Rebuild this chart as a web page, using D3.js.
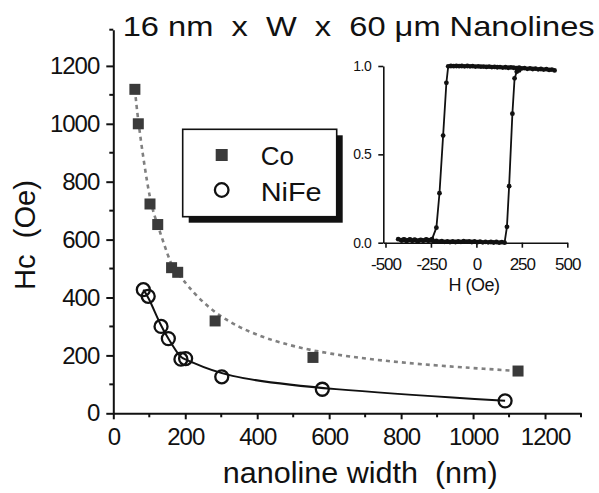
<!DOCTYPE html>
<html>
<head>
<meta charset="utf-8">
<script src="https://cdn.jsdelivr.net/npm/d3@7"></script>
<style>
  body { margin: 0; background: #fff; }
  svg { display: block; }
  text { font-family: "Liberation Sans", Arial, sans-serif; fill: #111; white-space: pre; }
</style>
</head>
<body>
<svg id="chart" width="599" height="493"></svg>
<script>
// main plot: coercivity vs nanoline width
var coWidth = [60, 69.5, 102, 123.5, 162, 179, 283, 555, 1125];
var coHc = [1119, 1000, 723, 652, 503, 487, 319, 193, 146];
var nifeWidth = [83.5, 97, 132.7, 153, 188, 201, 301.5, 581, 1089];
var nifeHc = [427, 404, 300, 258, 187, 189, 126, 83, 43];
var xTicks = [0, 200, 400, 600, 800, 1000, 1200];
var yTicks = [0, 200, 400, 600, 800, 1000, 1200];

// inset: hysteresis loop, field sweep down then back up
var loopField = [430, 415, 400, 385, 370, 355, 340, 325, 310, 295, 280, 265, 250, 235, 220, 205, 190, 175, 160, 145, 130, 115, 100, 85, 70, 55, 40, 25, 10, -5, -20, -35, -50, -65, -80, -95, -110, -125, -140, -155,
  -165, -183, -203, -220, -244,
  -260, -275, -290, -305, -320, -335, -350, -365, -380, -395, -410, -430,
  -415, -400, -385, -370, -355, -340, -325, -310, -295, -280, -265, -250, -235, -220, -205, -190, -175, -160, -145, -130, -115, -100, -85, -70, -55, -40, -25, -10, 5, 20, 35, 50, 65, 80, 95, 110, 125, 140, 155,
  168, 180, 198, 210, 222, 235];
var loopMoment = [0.975, 0.98, 0.978, 0.982, 0.98, 0.983, 0.981, 0.985, 0.983, 0.986, 0.984, 0.988, 0.986, 0.99, 0.988, 0.99, 0.992, 0.99, 0.993, 0.991, 0.994, 0.993, 0.995, 0.994, 0.996, 0.995, 0.997, 0.996, 0.998, 0.997, 0.999, 0.998, 1.0, 0.998, 1.0, 0.999, 1.0, 0.999, 1.0, 0.998,
  0.905, 0.606, 0.28, 0.085, 0.02,
  0.015, 0.018, 0.012, 0.016, 0.01, 0.015, 0.012, 0.018, 0.013, 0.017, 0.012, 0.02,
  0.015, 0.018, 0.01, 0.016, 0.012, 0.017, 0.01, 0.015, 0.012, 0.016, 0.011, 0.014, 0.008, 0.01, 0.006, 0.009, 0.005, 0.008, 0.004, 0.007, 0.004, 0.008, 0.005, 0.009, 0.006, 0.008, 0.004, 0.007, 0.003, 0.006, 0.002, 0.005, 0.002, 0.004, 0.001, 0.004, 0.0, 0.003, 0.0,
  0.09, 0.32, 0.73, 0.93, 0.968, 0.975];
var insetXTicks = [-500, -250, 0, 250, 500];
var insetYTicks = [0, 0.5, 1.0];

var svg = d3.select('#chart');

var x = d3.scaleLinear().domain([0, 1300]).range([113.3, 581]);
var y = d3.scaleLinear().domain([0, 1325]).range([413.3, 29.7]);
var plain = function (d) { return String(d); };

// axes
var gx = svg.append('g')
  .attr('class', 'axis')
  .attr('transform', 'translate(0,' + y(0) + ')')
  .call(d3.axisBottom(x).tickValues(xTicks).tickFormat(plain).tickSize(6).tickPadding(9).tickSizeOuter(0));
gx.selectAll('.minor')
  .data(d3.range(100, 1301, 200))
  .enter().append('line')
  .attr('class', 'minor')
  .attr('x1', x).attr('x2', x)
  .attr('y1', 0).attr('y2', 4);

var gy = svg.append('g')
  .attr('class', 'axis')
  .attr('transform', 'translate(' + x(0) + ',0)')
  .call(d3.axisLeft(y).tickValues(yTicks).tickFormat(plain).tickSize(7).tickPadding(7).tickSizeOuter(0));
gy.selectAll('.minor')
  .data(d3.range(100, 1200, 200).concat([1325]))
  .enter().append('line')
  .attr('class', 'minor')
  .attr('y1', y).attr('y2', y)
  .attr('x1', 0).attr('x2', -4);

svg.selectAll('.axis path, .axis line')
  .attr('stroke', '#111').attr('stroke-width', 2);
svg.selectAll('.axis text')
  .attr('font-size', 24)
  .attr('letter-spacing', -1)
  .attr('fill', '#111');

// titles
svg.append('text')
  .attr('x', 122.7).attr('y', 36)
  .attr('font-size', 28)
  .attr('textLength', 472).attr('lengthAdjust', 'spacingAndGlyphs')
  .text('16 nm  x  W  x  60 \u03bcm Nanolines');

svg.append('text')
  .attr('x', 222.7).attr('y', 483)
  .attr('font-size', 30)
  .attr('textLength', 275).attr('lengthAdjust', 'spacingAndGlyphs')
  .text('nanoline width  (nm)');

svg.append('text')
  .attr('transform', 'translate(35,290) rotate(-90)')
  .attr('font-size', 29)
  .attr('textLength', 110).attr('lengthAdjust', 'spacingAndGlyphs')
  .text('Hc  (Oe)');

// fitted curves through the data
var coPts = coWidth.map(function (d, i) { return [d, coHc[i]]; });
var nifePts = nifeWidth.map(function (d, i) { return [d, nifeHc[i]]; });
var line = d3.line()
  .x(function (d) { return x(d[0]); })
  .y(function (d) { return y(d[1]); })
  .curve(d3.curveBasis);

svg.append('path')
  .attr('d', line(coPts))
  .attr('fill', 'none')
  .attr('stroke', '#808080')
  .attr('stroke-width', 2.6)
  .attr('stroke-dasharray', '4,4');

svg.append('path')
  .attr('d', line(nifePts))
  .attr('fill', 'none')
  .attr('stroke', '#111')
  .attr('stroke-width', 2);

svg.selectAll('.co')
  .data(coPts)
  .enter().append('rect')
  .attr('class', 'co')
  .attr('x', function (d) { return x(d[0]) - 5.5; })
  .attr('y', function (d) { return y(d[1]) - 5.5; })
  .attr('width', 11).attr('height', 11)
  .attr('fill', '#3a3a3a');

svg.selectAll('.nife')
  .data(nifePts)
  .enter().append('circle')
  .attr('class', 'nife')
  .attr('cx', function (d) { return x(d[0]); })
  .attr('cy', function (d) { return y(d[1]); })
  .attr('r', 6.5)
  .attr('fill', 'none')
  .attr('stroke', '#111')
  .attr('stroke-width', 2.3);

// legend
var lg = svg.append('g');
lg.append('rect')
  .attr('x', 188.7).attr('y', 135.3)
  .attr('width', 154).attr('height', 87.4)
  .attr('fill', '#111');
lg.append('rect')
  .attr('x', 182.7).attr('y', 129.3)
  .attr('width', 154).attr('height', 87.4)
  .attr('fill', '#fff')
  .attr('stroke', '#111')
  .attr('stroke-width', 1.6);
lg.append('rect')
  .attr('x', 215.7).attr('y', 149).attr('width', 12).attr('height', 12)
  .attr('fill', '#3a3a3a');
lg.append('circle')
  .attr('cx', 221.7).attr('cy', 190).attr('r', 6.8)
  .attr('fill', 'none').attr('stroke', '#111').attr('stroke-width', 2.3);
lg.append('text')
  .attr('x', 260.7).attr('y', 165)
  .attr('font-size', 26)
  .text('Co');
lg.append('text')
  .attr('x', 260.7).attr('y', 201)
  .attr('font-size', 26)
  .attr('textLength', 61).attr('lengthAdjust', 'spacingAndGlyphs')
  .text('NiFe');

// inset hysteresis loop
var xi = d3.scaleLinear().domain([-512, 500]).range([383.3, 567.3]);
var yi = d3.scaleLinear().domain([0, 1]).range([242.7, 66]);

var gxi = svg.append('g')
  .attr('class', 'inset-axis')
  .attr('transform', 'translate(0,' + yi(0) + ')')
  .call(d3.axisBottom(xi).tickValues(insetXTicks).tickFormat(plain).tickSize(5).tickPadding(10).tickSizeOuter(0));
var gyi = svg.append('g')
  .attr('class', 'inset-axis')
  .attr('transform', 'translate(' + xi.range()[0] + ',0)')
  .call(d3.axisLeft(yi).tickValues(insetYTicks).tickSize(5).tickPadding(7).tickSizeOuter(0)
    .tickFormat(d3.format('.1f')));

svg.selectAll('.inset-axis path, .inset-axis line')
  .attr('stroke', '#111').attr('stroke-width', 1.6);
gxi.selectAll('text').attr('font-size', 17).attr('letter-spacing', -1).attr('fill', '#111');
gyi.selectAll('text').attr('font-size', 14).attr('letter-spacing', -0.5).attr('fill', '#111');

svg.append('text')
  .attr('x', 474).attr('y', 291)
  .attr('text-anchor', 'middle')
  .attr('font-size', 18)
  .attr('letter-spacing', -0.5)
  .text('H (Oe)');

var loopPts = loopField.map(function (d, i) { return [d, loopMoment[i]]; });
svg.append('path')
  .attr('d', d3.line()
    .x(function (d) { return xi(d[0]); })
    .y(function (d) { return yi(d[1]); })(loopPts))
  .attr('fill', 'none')
  .attr('stroke', '#111')
  .attr('stroke-width', 1.8);
svg.selectAll('.loop')
  .data(loopPts)
  .enter().append('circle')
  .attr('class', 'loop')
  .attr('cx', function (d) { return xi(d[0]); })
  .attr('cy', function (d) { return yi(d[1]); })
  .attr('r', 2.4)
  .attr('fill', '#111');
</script>
</body>
</html>
